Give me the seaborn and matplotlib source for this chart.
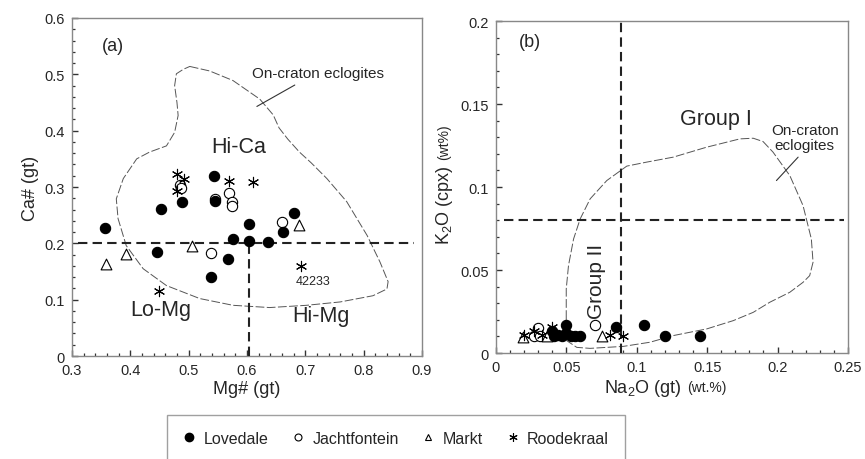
import pandas as pd
import matplotlib
matplotlib.use("Agg")
import matplotlib.pyplot as plt
import seaborn as sns
from matplotlib.lines import Line2D
from matplotlib.ticker import MultipleLocator, FormatStrFormatter

sns.set_style("ticks")
plt.rcParams["font.family"] = ["Liberation Sans", "DejaVu Sans"]
plt.rcParams["mathtext.fontset"] = "custom"
plt.rcParams["mathtext.rm"] = "Liberation Sans"
plt.rcParams["mathtext.default"] = "regular"

sites = ["Lovedale", "Jachtfontein", "Markt", "Roodekraal"]

# (a) Mg# vs Ca# of garnet
mg_love = [0.356, 0.453, 0.489, 0.543, 0.546, 0.445, 0.539, 0.568, 0.576, 0.604, 0.604, 0.636, 0.662, 0.680]
ca_love = [0.227, 0.261, 0.273, 0.320, 0.276, 0.185, 0.140, 0.172, 0.207, 0.235, 0.205, 0.203, 0.220, 0.254]
mg_jacht = [0.485, 0.487, 0.545, 0.570, 0.575, 0.575, 0.538, 0.660]
ca_jacht = [0.304, 0.298, 0.279, 0.289, 0.273, 0.267, 0.183, 0.238]
mg_markt = [0.359, 0.392, 0.505, 0.690]
ca_markt = [0.164, 0.181, 0.195, 0.232]
mg_rood = [0.480, 0.492, 0.480, 0.570, 0.610, 0.449, 0.692]
ca_rood = [0.323, 0.314, 0.293, 0.310, 0.308, 0.115, 0.160]

# (b) Na2O in garnet vs K2O in cpx
na_love = [0.040, 0.041, 0.044, 0.047, 0.050, 0.050, 0.053, 0.056, 0.060, 0.085, 0.105, 0.120, 0.145]
k_love = [0.0135, 0.010, 0.011, 0.010, 0.017, 0.012, 0.010, 0.010, 0.010, 0.0155, 0.017, 0.010, 0.010]
na_jacht = [0.030, 0.027, 0.031, 0.070]
k_jacht = [0.015, 0.010, 0.010, 0.017]
na_markt = [0.019, 0.036, 0.075]
k_markt = [0.0095, 0.010, 0.0105]
na_rood = [0.020, 0.027, 0.033, 0.040, 0.081, 0.090]
k_rood = [0.011, 0.0135, 0.011, 0.0155, 0.011, 0.0105]

# on-craton eclogite fields (traced outlines)
field_a_x = [0.502, 0.536, 0.576, 0.622, 0.645, 0.655, 0.670, 0.690, 0.710, 0.737, 0.771, 0.806, 0.828,
             0.842, 0.840, 0.816, 0.760, 0.702, 0.639, 0.576, 0.519, 0.462, 0.422, 0.393, 0.379, 0.376,
             0.388, 0.411, 0.433, 0.462, 0.476, 0.482, 0.480, 0.476, 0.479, 0.491, 0.502]
field_a_y = [0.514, 0.506, 0.489, 0.456, 0.428, 0.405, 0.385, 0.362, 0.343, 0.315, 0.274, 0.214, 0.167,
             0.132, 0.119, 0.107, 0.096, 0.090, 0.086, 0.090, 0.102, 0.125, 0.155, 0.196, 0.244, 0.279,
             0.315, 0.350, 0.362, 0.373, 0.397, 0.427, 0.450, 0.480, 0.501, 0.509, 0.514]
field_b_x = [0.0499, 0.0499, 0.0515, 0.0551, 0.0598, 0.0669, 0.0787, 0.0929, 0.1070, 0.1259, 0.1496,
             0.1732, 0.1827, 0.1897, 0.1968, 0.2087, 0.2181, 0.2240, 0.2252, 0.2228, 0.2181, 0.2087,
             0.1945, 0.1827, 0.1685, 0.1496, 0.1259, 0.1094, 0.0905, 0.0668, 0.0574, 0.0503, 0.0499]
field_b_y = [0.0205, 0.0386, 0.0527, 0.0687, 0.0808, 0.0929, 0.1039, 0.1126, 0.1150, 0.1180, 0.1240,
             0.1290, 0.1294, 0.1274, 0.1210, 0.1069, 0.0888, 0.0687, 0.0547, 0.0466, 0.0426, 0.0366,
             0.0306, 0.0245, 0.0195, 0.0145, 0.0105, 0.0065, 0.0040, 0.0028, 0.0034, 0.0074, 0.0205]

df_a = pd.concat([pd.DataFrame({"x": x, "y": y, "site": s}) for x, y, s in
                  zip([mg_love, mg_jacht, mg_markt, mg_rood], [ca_love, ca_jacht, ca_markt, ca_rood], sites)])
df_b = pd.concat([pd.DataFrame({"x": x, "y": y, "site": s}) for x, y, s in
                  zip([na_love, na_jacht, na_markt, na_rood], [k_love, k_jacht, k_markt, k_rood], sites)])

styles = {
    "Lovedale": dict(marker="o", color="black", edgecolor="black", s=55, linewidth=0.8, zorder=5),
    "Jachtfontein": dict(marker="o", color="white", edgecolor="black", s=55, linewidth=0.8, zorder=4),
    "Markt": dict(marker="^", color="white", edgecolor="black", s=60, linewidth=0.8, zorder=4),
    "Roodekraal": dict(marker=(6, 2, 0), color="black", edgecolor="black", s=55, linewidth=0.8, zorder=6),
}

fig = plt.figure(figsize=(8.65, 4.6), dpi=100)
ax1 = fig.add_axes([0.0832, 0.2239, 0.4046, 0.7348])
ax2 = fig.add_axes([0.5734, 0.2304, 0.4069, 0.7217])

for ax, df in [(ax1, df_a), (ax2, df_b)]:
    for s in sites:
        sns.scatterplot(data=df[df["site"] == s], x="x", y="y", ax=ax, legend=False, **styles[s])

field_style = dict(color="#555555", lw=0.7, dashes=(9, 2.5), zorder=2)
line_style = dict(color="#222222", lw=1.5, dashes=(4.5, 2.5), zorder=3)

# --- panel (a)
ax1.plot(field_a_x, field_a_y, **field_style)
ax1.plot([0.31, 0.886], [0.2, 0.2], **line_style)
ax1.plot([0.603, 0.603], [0, 0.2], **line_style)
ax1.plot([0.682, 0.617], [0.481, 0.443], color="#333333", lw=0.8)
ax1.text(0.722, 0.502, "On-craton eclogites", fontsize=11, ha="center", va="center")
ax1.text(0.585, 0.372, "Hi-Ca", fontsize=15.5, ha="center", va="center")
ax1.text(0.452, 0.083, "Lo-Mg", fontsize=15.5, ha="center", va="center")
ax1.text(0.726, 0.072, "Hi-Mg", fontsize=15.5, ha="center", va="center")
ax1.text(0.713, 0.134, "42233", fontsize=9, ha="center", va="center")
ax1.text(0.370, 0.551, "(a)", fontsize=13, ha="center", va="center")
ax1.set_xlim(0.3, 0.9)
ax1.set_ylim(0, 0.6)
ax1.xaxis.set_major_locator(MultipleLocator(0.1))
ax1.xaxis.set_minor_locator(MultipleLocator(0.02))
ax1.yaxis.set_major_locator(MultipleLocator(0.1))
ax1.yaxis.set_minor_locator(MultipleLocator(0.02))
ax1.set_xlabel("Mg# (gt)", fontsize=13, labelpad=2)
ax1.set_ylabel("Ca# (gt)", fontsize=13, labelpad=4)

# --- panel (b)
ax2.plot(field_b_x, field_b_y, **field_style)
ax2.plot([0.006, 0.247], [0.08, 0.08], **line_style)
ax2.plot([0.089, 0.089], [0, 0.2], **line_style)
ax2.plot([0.2146, 0.1992], [0.118, 0.1039], color="#333333", lw=0.8)
ax2.text(0.2193, 0.130, "On-craton\neclogites", fontsize=11, ha="center", va="center", linespacing=1.05)
ax2.text(0.156, 0.1415, "Group I", fontsize=15.5, ha="center", va="center")
ax2.text(0.0716, 0.0436, "Group II", fontsize=15, ha="center", va="center", rotation=90)
ax2.text(0.0243, 0.1877, "(b)", fontsize=13, ha="center", va="center")
ax2.set_xlim(0, 0.25)
ax2.set_ylim(0, 0.2)
ax2.xaxis.set_major_locator(MultipleLocator(0.05))
ax2.xaxis.set_minor_locator(MultipleLocator(0.01))
ax2.yaxis.set_major_locator(MultipleLocator(0.05))
ax2.yaxis.set_minor_locator(MultipleLocator(0.01))
xl = ax2.set_xlabel("Na$_2$O (gt)", fontsize=13, labelpad=2, x=0.416)
yl = ax2.set_ylabel("K$_2$O (cpx)", fontsize=13, labelpad=4, y=0.447)
ax2.annotate("(wt.%)", xy=(1, 0), xycoords=xl, xytext=(4, 2.5), textcoords="offset points",
             fontsize=10, ha="left", va="bottom")
ax2.annotate("(wt%)", xy=(1, 1), xycoords=yl, xytext=(-2.5, 4), textcoords="offset points",
             fontsize=10, ha="right", va="bottom", rotation=90)

for ax in (ax1, ax2):
    ax.xaxis.set_major_formatter(FormatStrFormatter("%g"))
    ax.yaxis.set_major_formatter(FormatStrFormatter("%g"))
    ax.tick_params(which="both", direction="in", bottom=True, left=True, top=False, right=False,
                   color="#333333", labelsize=10.5, pad=5)
    ax.tick_params(which="major", length=4, width=1.0)
    ax.tick_params(which="minor", length=2.2, width=0.9)
    for sp in ax.spines.values():
        sp.set_visible(True)
        sp.set_color("#888888")
        sp.set_linewidth(1.0)

handles = [
    Line2D([], [], ls="none", marker="o", ms=6, mfc="black", mec="black"),
    Line2D([], [], ls="none", marker="o", ms=5, mfc="white", mec="black", mew=0.8),
    Line2D([], [], ls="none", marker="^", ms=5, mfc="white", mec="black", mew=0.8),
    Line2D([], [], ls="none", marker=(6, 2, 0), ms=6, color="black", mew=0.8),
]
leg = fig.legend(handles, sites, loc="upper left", bbox_to_anchor=(167 / 865, 1 - 416 / 460), ncol=4,
                 fontsize=11.5, frameon=True, fancybox=False, borderpad=1.0, handlelength=0.8,
                 handletextpad=0.5, columnspacing=1.45, borderaxespad=0)
leg.get_frame().set_edgecolor("#888888")
leg.get_frame().set_linewidth(1.0)

fig.savefig("out.png", dpi=100)
